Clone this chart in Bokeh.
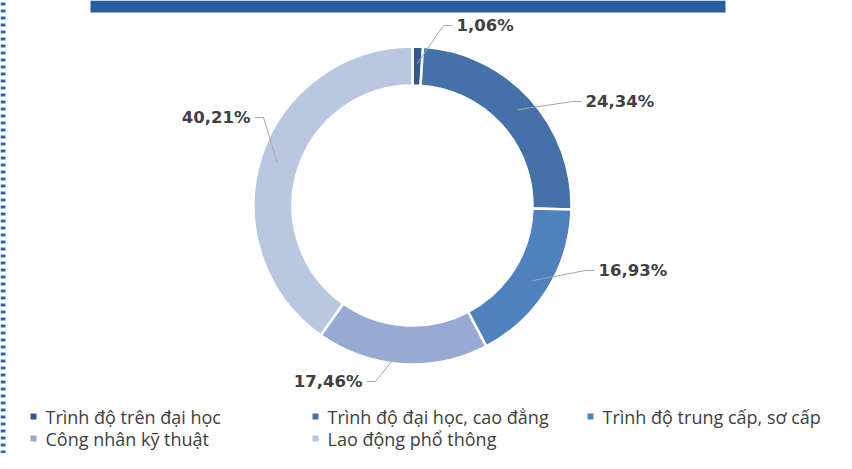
import math
from bokeh.plotting import figure
from bokeh.models import Range1d, ColumnDataSource
from bokeh.embed import file_html
from bokeh.resources import INLINE
from bokeh.core.properties import value

# ---------------- data ----------------
categories = ["Trình độ trên đại học", "Trình độ đại học, cao đẳng",
              "Trình độ trung cấp, sơ cấp", "Công nhân kỹ thuật",
              "Lao động phổ thông"]
shares = [1.06, 24.34, 16.93, 17.46, 40.21]
share_labels = ["1,06%", "24,34%", "16,93%", "17,46%", "40,21%"]
colors = ["#2E5A91", "#4371A8", "#4F81BD", "#97AAD3", "#BAC7E1"]

# ---------------- layout ----------------
W, H = 836, 453


def px(x):
    return x


def py(y):
    return H - y


CX, CY = px(412), py(205)
R_OUT, R_IN = 159, 120
R_LEADER = 142
# elbow offsets (dx, dy in screen px from centre), text side
leader_layout = [((31, -180), "left"), ((160, -104), "left"), ((173, 65), "left"),
                 ((-37, 176), "right"), ((-149, -88), "right")]
TAIL = 9
GAP = 4

p = figure(width=W, height=H, x_range=Range1d(0, W), y_range=Range1d(0, H),
           output_backend="svg", toolbar_location=None, min_border=0,
           x_axis_type=None, y_axis_type=None)
p.grid.visible = False
p.outline_line_color = None
p.background_fill_color = "white"
p.border_fill_color = "white"

# dashed left border
p.segment(x0=[2.5], y0=[0], x1=[2.5], y1=[H], line_color="#2E65A8",
          line_width=5, line_dash="3 4")

# header bar (cut off at top)
p.quad(left=[px(90)], right=[px(725)], top=[H], bottom=[py(12)],
       fill_color="#285F9F", line_color=None)

# donut
total = sum(shares)
starts, ends, mids = [], [], []
cum = 0.0
for s in shares:
    a0 = cum / total
    cum += s
    a1 = cum / total
    starts.append(math.pi / 2 - 2 * math.pi * a0)
    ends.append(math.pi / 2 - 2 * math.pi * a1)
    mids.append((a0 + a1) / 2 * 2 * math.pi)  # clockwise from top

src = ColumnDataSource(dict(start=starts, end=ends, color=colors, cat=categories))
p.annular_wedge(x=CX, y=CY, inner_radius=R_IN, outer_radius=R_OUT,
                start_angle="start", end_angle="end", direction="clock",
                fill_color="color", line_color="white", line_width=2.5,
                source=src)

# leader lines + labels
xs, ys = [], []
tx, ty, talign = [], [], []
for m, ((edx, edy), side) in zip(mids, leader_layout):
    sx = CX + R_LEADER * math.sin(m)
    sy = CY + R_LEADER * math.cos(m)
    ex, ey = CX + edx, CY - edy
    fx = ex + TAIL if side == "left" else ex - TAIL
    xs.append([sx, ex, fx])
    ys.append([sy, ey, ey])
    tx.append(fx + GAP if side == "left" else fx - GAP)
    ty.append(ey)
    talign.append(side)

p.multi_line(xs=xs, ys=ys, line_color="#A6A6A6", line_width=1)
p.text(x=tx, y=ty, text=share_labels, text_align=talign, text_baseline="middle",
       text_font=value("DejaVu Sans"), text_font_style="bold",
       text_font_size="16.5px", text_color="#404040")

# legend
leg_x = [33, 315, 590, 33, 315]
leg_y = [416, 416, 416, 438, 438]
mx = [px(v) for v in leg_x]
my = [py(v) for v in leg_y]
p.scatter(x=mx, y=my, marker="square", size=6, fill_color=colors, line_color=None)
p.text(x=[v + 12 for v in mx], y=my, text=categories, text_align="left",
       text_baseline="middle", text_font=value("Open Sans"),
       text_font_size="18px", text_color="#404040")

open("out.html", "w").write(file_html(p, INLINE))
